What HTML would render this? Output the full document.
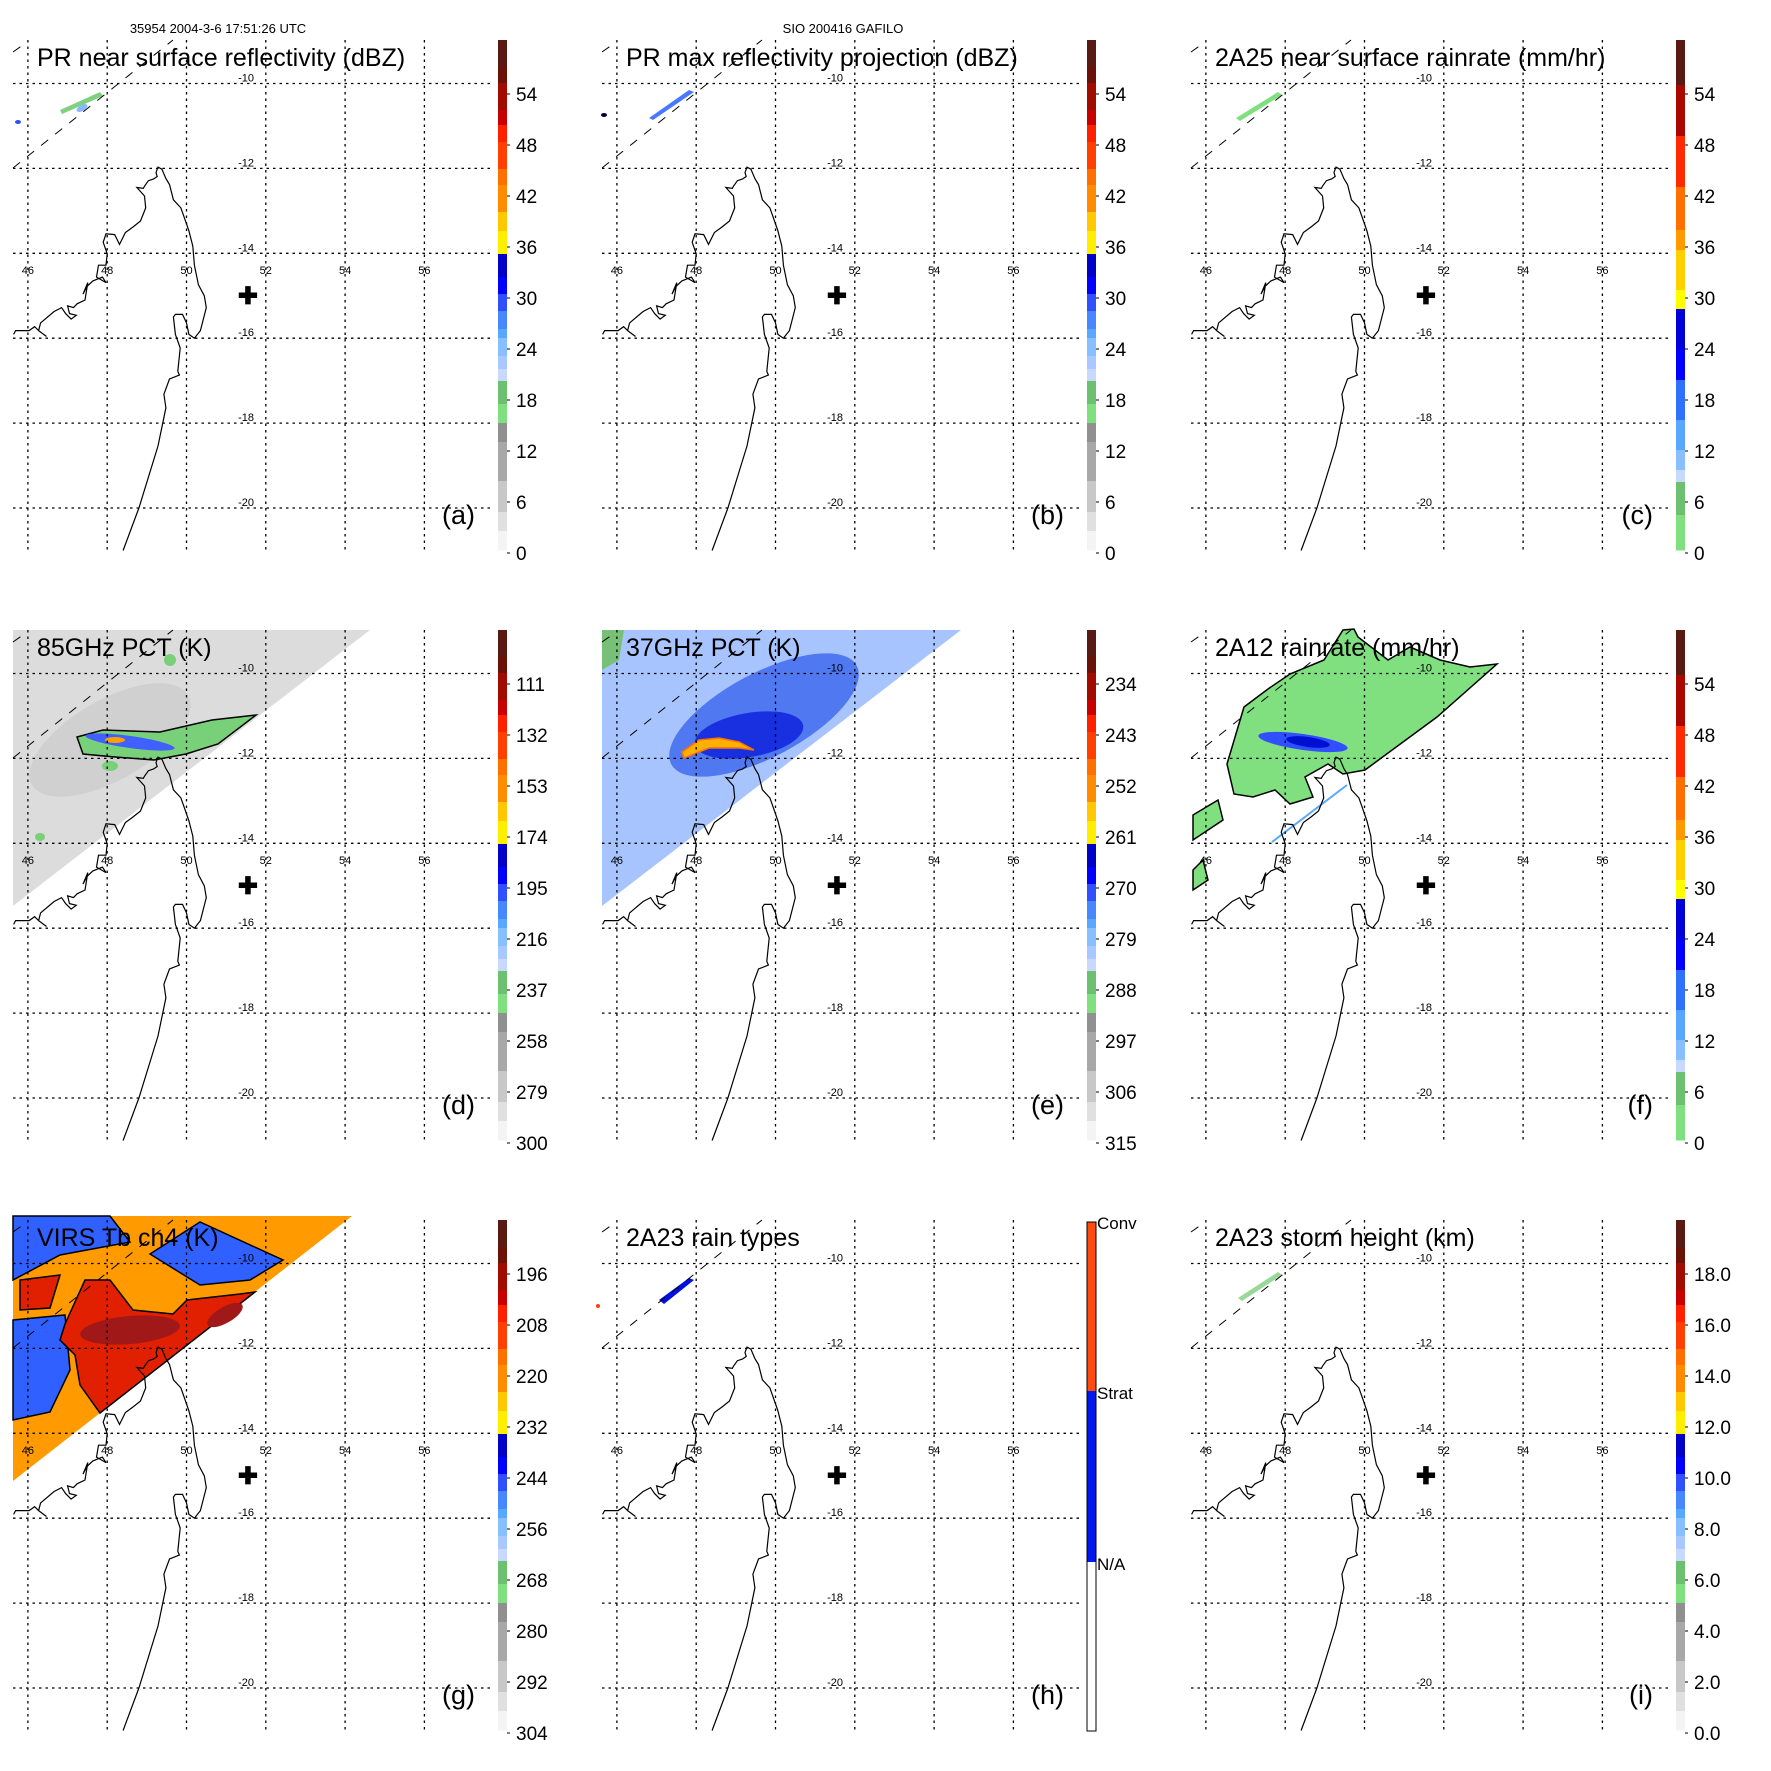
<!DOCTYPE html>
<html><head><meta charset="utf-8"><style>
html,body{margin:0;padding:0;background:#fff;width:1771px;height:1771px;overflow:hidden}
svg{display:block}
text{font-family:"Liberation Sans",sans-serif}
</style></head><body>
<svg id="fig" width="1771" height="1771" viewBox="0 0 1771 1771" xmlns="http://www.w3.org/2000/svg">
<rect width="1771" height="1771" fill="#fff"/>
<text x="218" y="33" font-size="13" text-anchor="middle">35954 2004-3-6 17:51:26 UTC</text>
<text x="843" y="33" font-size="13" text-anchor="middle">SIO 200416 GAFILO</text>
</svg>
<script>
const gridLons=[46,48,50,52,54,56];
const gridLats=[-10,-12,-14,-16,-18,-20];
const coastLon=[48.4,48.8,49.28,49.48,49.43,49.57,49.82,49.78,49.84,49.72,49.67,49.72,49.9,50.0,50.06,50.2,50.35,50.5,50.45,50.3,50.2,50.16,50.06,49.96,49.86,49.67,49.57,49.48,49.38,49.28,49.23,49.26,49.17,49.04,48.94,48.91,48.75,48.94,48.97,48.84,48.65,48.46,48.31,48.19,47.97,47.9,48.0,47.97,47.78,47.73,47.97,47.88,47.64,47.49,47.39,47.51,47.44,47.24,47.15,47.0,47.05,47.22,47.09,46.95,46.85,46.66,46.32,46.27,46.47,46.27,46.17,46.03,45.88,45.69,45.64];
const coastLat=[-21.0,-20.0,-18.54,-17.64,-17.32,-16.96,-16.87,-16.78,-16.23,-15.91,-15.5,-15.44,-15.44,-15.64,-15.91,-16.0,-15.82,-15.28,-15.0,-14.74,-14.28,-13.83,-13.47,-13.2,-12.93,-12.74,-12.38,-12.24,-12.02,-11.97,-12.1,-12.19,-12.25,-12.29,-12.42,-12.47,-12.45,-12.65,-12.93,-13.24,-13.38,-13.51,-13.79,-13.56,-13.54,-13.74,-14.01,-14.28,-14.28,-14.56,-14.69,-14.56,-14.65,-14.78,-14.96,-14.69,-15.1,-15.19,-15.28,-15.24,-15.42,-15.46,-15.55,-15.42,-15.28,-15.37,-15.64,-15.82,-15.96,-15.82,-15.73,-15.82,-15.82,-15.82,-15.91];
const stormLon=51.55, stormLat=-15.0;
const titles=["PR near surface reflectivity (dBZ)","PR max reflectivity projection (dBZ)","2A25 near surface rainrate (mm/hr)","85GHz PCT (K)","37GHz PCT (K)","2A12 rainrate (mm/hr)","VIRS Tb ch4 (K)","2A23 rain types","2A23 storm height (km)"];
const panelLetters=["(a)","(b)","(c)","(d)","(e)","(f)","(g)","(h)","(i)"];
const ticksA=["54","48","42","36","30","24","18","12","6","0"];
const ticksD=["111","132","153","174","195","216","237","258","279","300"];
const ticksE=["234","243","252","261","270","279","288","297","306","315"];
const ticksG=["196","208","220","232","244","256","268","280","292","304"];
const ticksI=["18.0","16.0","14.0","12.0","10.0","8.0","6.0","4.0","2.0","0.0"];
const tickSets=[ticksA,ticksA,ticksA,ticksD,ticksE,ticksA,ticksG,null,ticksI];
const palStd=[[40,'#5a1a14'],[67,'#6a1208'],[83,'#a00c00'],[110,'#c80000'],[125,'#ff2000'],[142,'#ff4000'],[169,'#ff7000'],[185,'#ff8c00'],[212,'#ffc800'],[231,'#ffee00'],[254,'#0000c8'],[277,'#0000ff'],[294,'#3050ff'],[311,'#4888ff'],[329,'#58a8ff'],[338,'#88c0ff'],[356,'#a8c8ff'],[369,'#c8d8ff'],[381,'#6cc070'],[404,'#80e080'],[423,'#909090'],[442,'#a8a8a8'],[481,'#c8c8c8'],[512,'#e0e0e0'],[531,'#f4f4f4'],[550,null]];
const palRain=[[40,'#5a1a14'],[85,'#a80800'],[136,'#ff2a00'],[187,'#ff7000'],[230,'#ff9a00'],[250,'#ffd000'],[290,'#ffff00'],[309,'#0000d8'],[350,'#0000ff'],[380,'#3070ff'],[420,'#58a8ff'],[450,'#88c0ff'],[470,'#c8d8ff'],[482,'#6cc070'],[515,'#80e080'],[550,null]];
const pals=[palStd,palStd,palRain,palStd,palStd,palRain,palStd,null,palStd];

const NS="http://www.w3.org/2000/svg";
const fig=document.getElementById('fig');
function X(lon){return 186.5+(lon-50)*39.65;}
function Y(lat){return 83.5+(-10-lat)*42.45;}
function el(tag,parent){const e=document.createElementNS(NS,tag);parent.appendChild(e);return e;}
function poly(parent,pts,fill,stroke,name){
  const p=el('polygon',parent);
  p.setAttribute('points',pts.map(q=>q.join(',')).join(' '));
  p.setAttribute('fill',fill);
  if(stroke){p.setAttribute('stroke',stroke);p.setAttribute('stroke-width','1.5');}
  
  
  return p;
}
function ell(parent,cx,cy,rx,ry,rot,fill,name){
  const e=el('ellipse',parent);
  e.setAttribute('cx',cx);e.setAttribute('cy',cy);e.setAttribute('rx',rx);e.setAttribute('ry',ry);
  e.setAttribute('transform','rotate('+rot+' '+cx+' '+cy+')');e.setAttribute('fill',fill);
  
  
  return e;
}

function drawData(i,g){
  if(i===3){
    poly(g,[[13,40],[370,40],[13,316]],'#dcdcdc',null,'pct85-swath');
    ell(g,110,150,90,40,-30,'#d0d0d0','pct85-shade');
    poly(g,[[77,147],[103,140],[160,142],[212,130],[256,125],[218,154],[186,164],[154,170],[115,167],[83,164]],'#78d078','#000','pct85-rain-area');
    ell(g,130,152,45,6,8,'#4060ff','pct85-blue-core');
    ell(g,115,150,10,3,0,'#ffa000','pct85-orange-core');
    ell(g,170,70,6,6,0,'#78d078','pct85-blob');
    ell(g,110,176,8,5,0,'#78d078','pct85-blob');
    ell(g,40,247,5,4,0,'#78d078','pct85-blob');
  }
  if(i===4){
    poly(g,[[13,40],[372,40],[13,316]],'#a8c4ff',null,'pct37-swath');
    poly(g,[[13,40],[35,40],[30,70],[13,80]],'#78c078',null,'pct37-green');
    ell(g,175,125,105,42,-28,'#5078f0','pct37-cold-area');
    ell(g,160,145,55,22,-10,'#1830e0','pct37-core');
    poly(g,[[93,162],[110,150],[130,148],[150,152],[165,160],[150,158],[120,158],[95,168]],'#ffb000','#ff7000','pct37-scattering');
  }
  if(i===5){
    poly(g,[[49,174],[66,117],[90,99],[112,84],[146,70],[165,40],[176,39],[180,47],[210,70],[232,57],[262,70],[292,77],[319,74],[259,127],[187,180],[165,184],[150,174],[127,187],[135,207],[112,214],[97,200],[75,207],[56,204]],'#80e080','#000','rain-area');
    poly(g,[[15,225],[40,210],[45,230],[15,250]],'#80e080','#000','rain-area-small');
    poly(g,[[15,280],[25,270],[30,290],[15,300]],'#80e080','#000','rain-area-small');
    ell(g,125,152,45,8,8,'#3050ff','rain-blue');
    ell(g,130,152,22,5,8,'#0010d0','rain-core');
    const l=el('line',g);l.setAttribute('x1',94);l.setAttribute('y1',252);l.setAttribute('x2',169);l.setAttribute('y2',195);l.setAttribute('stroke','#58a8ff');l.setAttribute('stroke-width','2');
    
    
  }
  if(i===6){
    poly(g,[[13,36],[352,36],[13,301]],'#ff9a00',null,'virs-swath');
    poly(g,[[13,36],[110,36],[130,62],[60,75],[13,100]],'#3060ff','#000','virs-cold-top');
    poly(g,[[150,74],[200,42],[283,80],[250,100],[200,105]],'#3060ff','#000','virs-cold-right');
    poly(g,[[13,140],[65,135],[70,190],[50,232],[13,240]],'#3060ff','#000','virs-cold-left');
    poly(g,[[20,100],[60,95],[50,128],[20,130]],'#e02000','#000','virs-warm-blob');
    poly(g,[[65,144],[85,100],[110,100],[133,130],[173,134],[187,120],[240,114],[255,112],[100,233],[80,205],[75,175],[60,160]],'#e02000','#000','virs-cloud-core');
    ell(g,130,150,50,14,-5,'#a01818','virs-coldest');
    ell(g,225,135,20,8,-30,'#a01818','virs-coldest');
  }
  if(i===0){
    poly(g,[[60,110],[100,92],[103,96],[62,114]],'#80d080',null,'pr-echo');
    ell(g,82,108,6,3,-30,'#88b8ff','pr-echo-blue');
    ell(g,18,122,3,2,0,'#3050ff','pr-echo-blue');
  }
  if(i===1){
    poly(g,[[60,118],[100,90],[105,92],[64,120]],'#4878ff',null,'pr-max-echo');
    ell(g,15,115,3,2,0,'#000040','pr-max-dot');
  }
  if(i===2){
    poly(g,[[58,118],[100,92],[104,95],[62,121]],'#80e080',null,'rain-echo');
  }
  if(i===7){
    poly(g,[[70,120],[100,98],[105,100],[75,124]],'#0010e0',null,'raintype-strat');
    ell(g,9,126,2,2,0,'#ff4010','raintype-conv');
  }
  if(i===8){
    poly(g,[[60,118],[100,92],[104,95],[64,121]],'#98d898',null,'height-echo');
  }
}

for(let i=0;i<9;i++){
  const ox=(i%3)*589, oy=Math.floor(i/3)*590;
  const g=el('g',fig);
  g.setAttribute('transform','translate('+ox+','+oy+')');
  
  
  drawData(i,g);
  gridLons.forEach(lon=>{
    const l=el('line',g);l.setAttribute('x1',X(lon));l.setAttribute('x2',X(lon));l.setAttribute('y1',40);l.setAttribute('y2',552);
    l.setAttribute('stroke','#000');l.setAttribute('stroke-width','1.3');l.setAttribute('stroke-dasharray','2.5,4');
    
    
    const t=el('text',g);t.setAttribute('x',X(lon));t.setAttribute('y',274);t.setAttribute('font-size','11');t.setAttribute('text-anchor','middle');t.textContent=lon;
    
    
  });
  gridLats.forEach(lat=>{
    const l=el('line',g);l.setAttribute('x1',13);l.setAttribute('x2',490);l.setAttribute('y1',Y(lat));l.setAttribute('y2',Y(lat));
    l.setAttribute('stroke','#000');l.setAttribute('stroke-width','1.3');l.setAttribute('stroke-dasharray','2.5,4');
    
    
    const t=el('text',g);t.setAttribute('x',254);t.setAttribute('y',Y(lat)-2);t.setAttribute('font-size','11');t.setAttribute('text-anchor','end');t.textContent=lat;
    
    
  });
  [[13,168,173,40],[13,52,23,45]].forEach(s=>{
    const l=el('line',g);l.setAttribute('x1',s[0]);l.setAttribute('y1',s[1]);l.setAttribute('x2',s[2]);l.setAttribute('y2',s[3]);
    l.setAttribute('stroke','#000');l.setAttribute('stroke-width','1');l.setAttribute('stroke-dasharray','9,9');
    
    
  });
  const c=el('polyline',g);
  c.setAttribute('points',coastLon.map((lo,k)=>X(lo).toFixed(1)+','+Y(coastLat[k]).toFixed(1)).join(' '));
  c.setAttribute('fill','none');c.setAttribute('stroke','#000');c.setAttribute('stroke-width','1.2');
  
  
  const sc=el('text',g);sc.setAttribute('x',X(stormLon));sc.setAttribute('y',Y(stormLat)+8);sc.setAttribute('font-size','24');sc.setAttribute('font-weight','bold');sc.setAttribute('text-anchor','middle');sc.textContent='✚';
  
  
  const tt=el('text',g);tt.setAttribute('x',37);tt.setAttribute('y',66);tt.setAttribute('font-size','25');tt.textContent=titles[i];
  
  
  const lt=el('text',g);lt.setAttribute('x',475);lt.setAttribute('y',524);lt.setAttribute('font-size','27');lt.setAttribute('text-anchor','end');lt.textContent=panelLetters[i];
  
  
  const cb=el('g',g);
  
  
  if(pals[i]){
    const p=pals[i];
    for(let k=0;k<p.length-1;k++){
      const r=el('rect',cb);r.setAttribute('x',498);r.setAttribute('width',9);r.setAttribute('y',p[k][0]);r.setAttribute('height',p[k+1][0]-p[k][0]+0.5);r.setAttribute('fill',p[k][1]);
      
      
    }
    tickSets[i].forEach((lab,k)=>{
      const y=94+k*51;
      const tk=el('line',cb);tk.setAttribute('x1',507);tk.setAttribute('x2',510);tk.setAttribute('y1',y);tk.setAttribute('y2',y);tk.setAttribute('stroke','#000');
      
      
      const t=el('text',cb);t.setAttribute('x',516);t.setAttribute('y',y+7);t.setAttribute('font-size','19');t.textContent=lab;
      
      
    });
  } else {
    const segs=[[42,211,'#ff4a10'],[211,382,'#0018f0'],[382,551,'#ffffff']];
    segs.forEach(s=>{const r=el('rect',cb);r.setAttribute('x',498);r.setAttribute('width',9);r.setAttribute('y',s[0]);r.setAttribute('height',s[1]-s[0]);r.setAttribute('fill',s[2]);
      
      });
    const bd=el('rect',cb);bd.setAttribute('x',498);bd.setAttribute('y',42);bd.setAttribute('width',9);bd.setAttribute('height',509);bd.setAttribute('fill','none');bd.setAttribute('stroke','#000');
    
    
    [['Conv',49],['Strat',219],['N/A',390]].forEach(a=>{
      const t=el('text',cb);t.setAttribute('x',508);t.setAttribute('y',a[1]);t.setAttribute('font-size','17');t.textContent=a[0];
      
      
    });
  }
}
</script>
</body></html>
